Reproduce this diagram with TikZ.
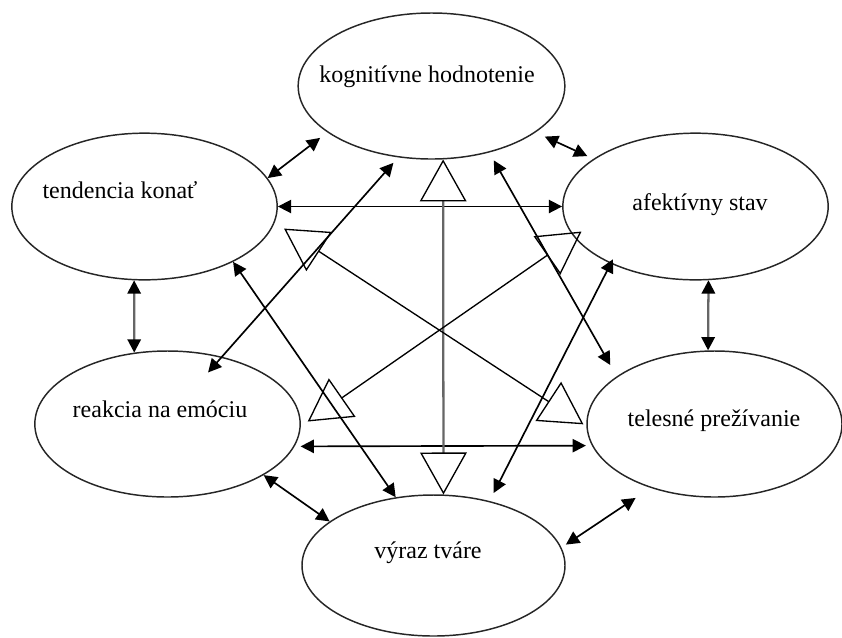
\documentclass[tikz,border=0pt]{standalone}
\usepackage{fontspec}
\setmainfont{Liberation Serif}
\usetikzlibrary{shapes.geometric,arrows.meta}

\begin{document}
\begin{tikzpicture}[x=0.75pt,y=0.75pt,yscale=-1,xscale=1,
  bubble/.style={draw=black!85,line width=1.1pt,ellipse,inner sep=0pt,minimum width=199pt,minimum height=110pt},
  txt/.style={anchor=base,inner sep=0.75pt,font=\fontsize{18}{21}\selectfont},
  link/.style={line width=1.25pt,arrows={Triangle[length=10pt,width=10pt]-Triangle[length=10pt,width=10pt]}},
  greylink/.style={draw=black!60,line width=1.7pt,arrows={Triangle[length=10pt,width=10pt,color=black]-Triangle[length=10pt,width=10pt,color=black]}},
  gen/.style={line width=1pt,arrows={Triangle[open,length=31.5pt,width=35pt]-Triangle[open,length=31.5pt,width=35pt]}},
  greygen/.style={draw=black!60,line width=1.7pt,arrows={Triangle[open,length=31.5pt,width=35pt,color=black,line width=1pt]-Triangle[open,length=31.5pt,width=35pt,color=black,line width=1pt]}}
]
%set diagram left start at 0, and has height of 637
\useasboundingbox (0,0) rectangle (842,637);

%Shape: Ellipse
\node[bubble,minimum width=200pt,minimum height=109.5pt] (kog) at (431.5,86) {};
%Shape: Ellipse
\node[bubble] (tend) at (144.5,206.5) {};
%Shape: Ellipse
\node[bubble] (afek) at (695.5,206.5) {};
%Shape: Ellipse
\node[bubble,minimum height=109.5pt] (reak) at (167.5,424) {};
%Shape: Ellipse
\node[bubble,minimum width=191.25pt,minimum height=109.5pt] (teles) at (714.5,424) {};
%Shape: Ellipse
\node[bubble,minimum width=197.25pt,minimum height=105.75pt] (vyraz) at (433.5,565.5) {};

%Straight Lines
\draw[link,shorten >=6.75pt] (tend.13.6) -- (kog.-156.3);
%Straight Lines
\draw[link,shorten <=7.5pt,shorten >=5pt] (kog.-24.6) -- (afek.155.5);
%Straight Lines
\draw[link] (tend.east) -- (afek.west);
%Straight Lines
\draw[greylink] (tend.-98.5) -- (reak.115);
%Straight Lines
\draw[greylink] (afek.-80.6) -- (teles.95);
%Straight Lines
\draw[link,shorten <=4.5pt,shorten >=4.5pt] (reak.-10) -- (teles.190);
%Straight Lines
\draw[link] (reak.-28.9) -- (vyraz.157.6);
%Straight Lines
\draw[link,shorten <=4pt,shorten >=13.5pt] (vyraz.8.7) -- (teles.-135.6);
%Straight Lines
\draw[link] (tend.-32) -- (vyraz.119.2);
%Straight Lines
\draw[link,shorten <=5.4pt,shorten >=-15.75pt] (kog.-115.5) -- (reak.51.3);
%Straight Lines
\draw[link,shorten <=6.75pt,shorten >=9.75pt] (kog.-49.3) -- (teles.154);
%Straight Lines
\draw[link,shorten <=-3.75pt,shorten >=6.75pt] (afek.-146.9) -- (vyraz.49.3);

%Straight Lines
\draw[greygen] (kog.-81) -- (vyraz.82.3);
%Straight Lines
\draw[gen,shorten <=8.3pt,shorten >=2.6pt] (tend.-7.2) -- (teles.181.3);
%Straight Lines
\draw[gen,shorten <=6.3pt,shorten >=-7pt] (reak.-1.6) -- (afek.-166.2);

% Text Node
\node[txt] (kogtxt) at (427,82.5) {kognitívne hodnotenie};
% Text Node
\node[txt] (tendtxt) at (120,198.5) {tendencia konať};
% Text Node
\node[txt] (afektxt) at (700,210.5) {afektívny stav};
% Text Node
\node[txt] (reaktxt) at (160,417.5) {reakcia na emóciu};
% Text Node
\node[txt] (telestxt) at (714,426) {telesné prežívanie};
% Text Node
\node[txt] (vyraztxt) at (428,558.5) {výraz tváre};

\end{tikzpicture}
\end{document}
